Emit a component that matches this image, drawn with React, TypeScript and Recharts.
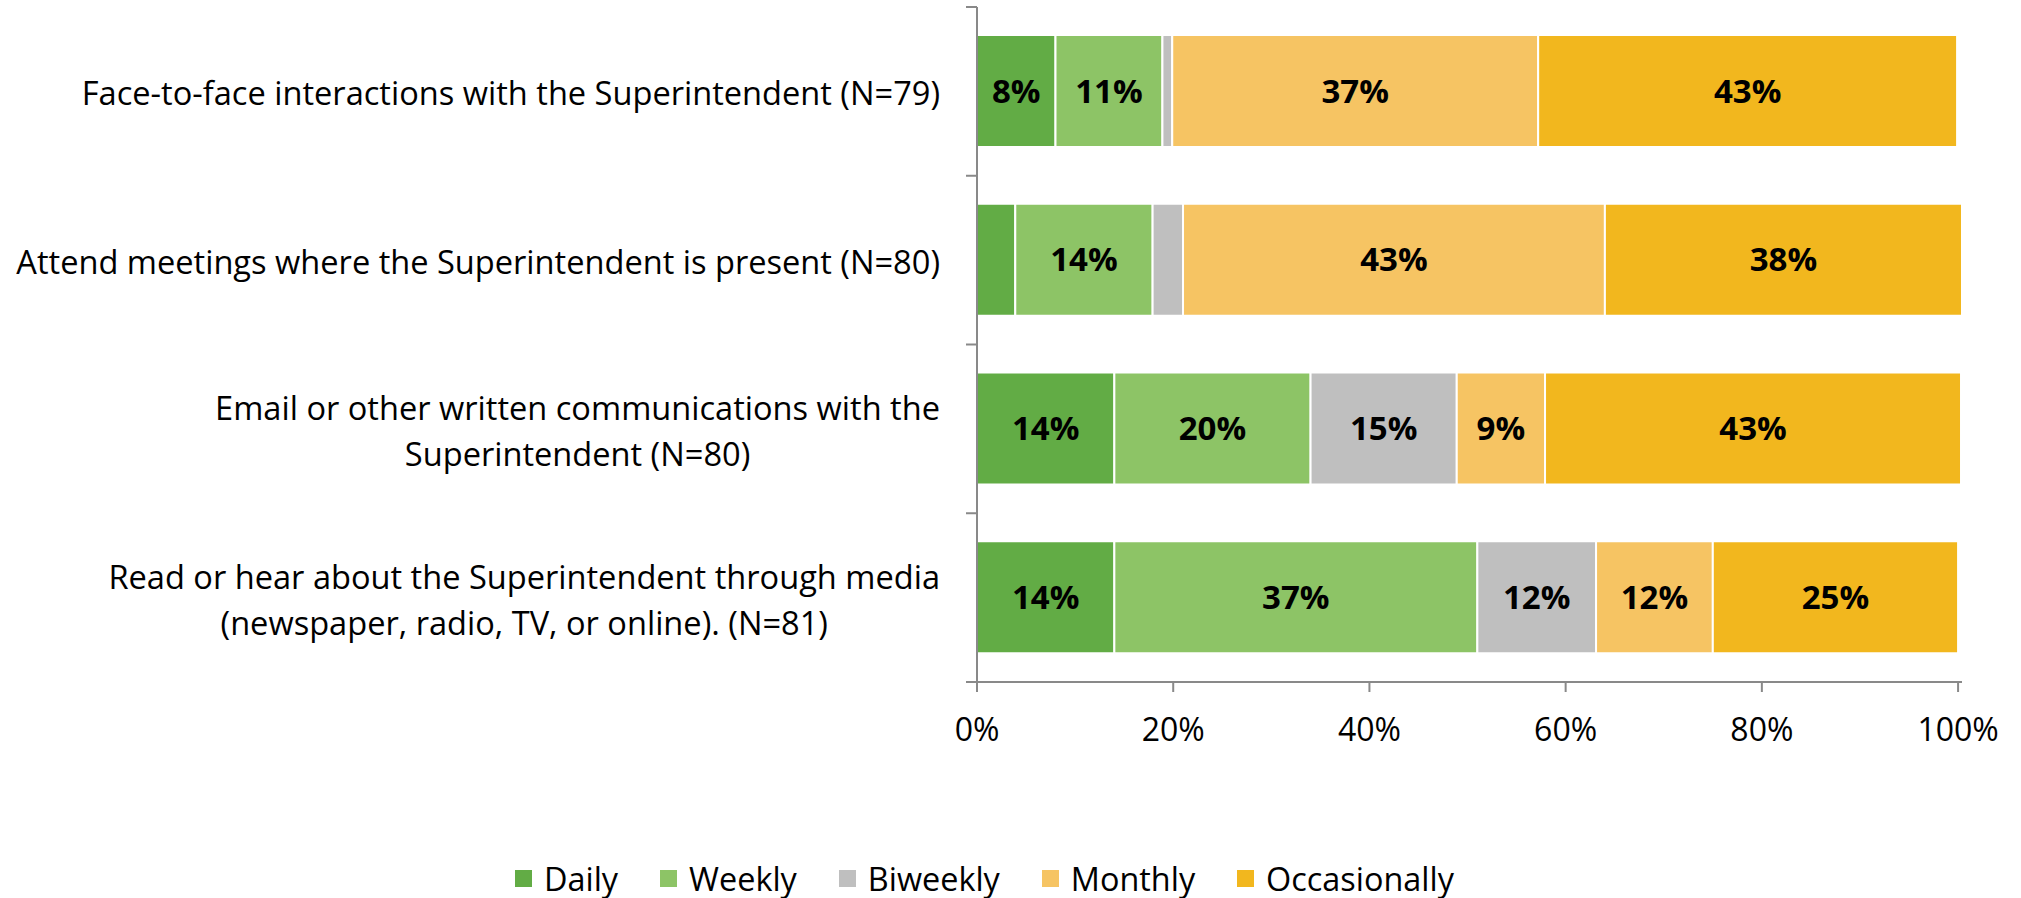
import { Bar, BarChart, LabelList, Legend, XAxis, YAxis } from 'recharts'

if (typeof document !== 'undefined') document.body.style.margin = '0'

const CATEGORY_LINES = [
  ['Face-to-face interactions with the Superintendent (N=79)'],
  ['Attend meetings where the Superintendent is present (N=80)'],
  ['Email or other written communications with the', 'Superintendent (N=80)'],
  ['Read or hear about the Superintendent through media', '(newspaper, radio, TV, or online). (N=81)'],
]

const SERIES = ['Daily', 'Weekly', 'Biweekly', 'Monthly', 'Occasionally']

const COLORS: Record<string, string> = {
  Daily: '#62AC45',
  Weekly: '#8DC466',
  Biweekly: '#BFBFBF',
  Monthly: '#F6C463',
  Occasionally: '#F2B71E',
}

// bar widths (percent)
const DAILY = [8, 3.9, 14, 14]
const WEEKLY = [10.9, 14, 20, 37]
const BIWEEKLY = [1, 3.1, 14.9, 12.1]
const MONTHLY = [37.3, 43, 9, 11.9]
const OCCASIONALLY = [42.7, 36.4, 42.4, 25]

// printed labels
const DAILY_LABELS = ['8%', '', '14%', '14%']
const WEEKLY_LABELS = ['11%', '14%', '20%', '37%']
const BIWEEKLY_LABELS = ['', '', '15%', '12%']
const MONTHLY_LABELS = ['37%', '43%', '9%', '12%']
const OCCASIONALLY_LABELS = ['43%', '38%', '43%', '25%']

const X_TICKS = [0, 20, 40, 60, 80, 100]
// a couple of rows run a hair past 100%, so leave room for them
const X_DOMAIN = [0, 100.4]

const VALUES: Record<string, number[]> = {
  Daily: DAILY, Weekly: WEEKLY, Biweekly: BIWEEKLY, Monthly: MONTHLY, Occasionally: OCCASIONALLY,
}
const LABELS: Record<string, string[]> = {
  Daily: DAILY_LABELS, Weekly: WEEKLY_LABELS, Biweekly: BIWEEKLY_LABELS,
  Monthly: MONTHLY_LABELS, Occasionally: OCCASIONALLY_LABELS,
}

const data = CATEGORY_LINES.map((lines, i) => {
  const row: Record<string, string | number> = { name: lines.join(' ') }
  SERIES.forEach((s) => {
    row[s] = VALUES[s][i]
    row[`${s}Label`] = LABELS[s][i]
  })
  return row
})

const W = 2021
const H = 898
const MARGIN = { top: 7, right: 59, bottom: 0, left: 0 }
const X_AXIS_H = 176
const LEGEND_H = 40
const PLOT_H = H - MARGIN.top - MARGIN.bottom - X_AXIS_H - LEGEND_H
const AXIS = '#898989'
const FONT = '"Open Sans", sans-serif'
const CAT_SIZE = 32.6
const LINE_H = 46

let ctx: CanvasRenderingContext2D | null = null
function measure(text: string) {
  if (!ctx) ctx = document.createElement('canvas').getContext('2d')
  if (!ctx) return text.length * CAT_SIZE * 0.5
  ctx.font = `${CAT_SIZE}px "Open Sans"`
  return ctx.measureText(text).width
}

function CategoryTick(props: any) {
  const { x, y, payload } = props
  const idx = data.findIndex((d) => d.name === payload.value)
  const lines = CATEGORY_LINES[idx] ?? [String(payload.value)]
  const band = PLOT_H / CATEGORY_LINES.length
  const right = x - 37
  const block = Math.max(...lines.map(measure))
  const cx = right - block / 2
  const n = lines.length
  return (
    <g>
      <line x1={x - 11} x2={x} y1={y - band / 2} y2={y - band / 2} stroke={AXIS} strokeWidth={2} />
      {idx === CATEGORY_LINES.length - 1 && (
        <line x1={x - 11} x2={x} y1={y + band / 2} y2={y + band / 2} stroke={AXIS} strokeWidth={2} />
      )}
      {lines.map((l, i) => (
        <text key={i} x={cx} y={y + 2.5 + (i - (n - 1) / 2) * LINE_H} dy="0.35em" textAnchor="middle"
          fontFamily={FONT} fontSize={CAT_SIZE} fill="#000">
          {l}
        </text>
      ))}
    </g>
  )
}

function LegendRow() {
  return (
    <div style={{ height: LEGEND_H, display: 'flex', alignItems: 'center', paddingLeft: 515, fontFamily: FONT, fontSize: 32.4, color: '#000' }}>
      {SERIES.map((s) => (
        <div key={s} style={{ display: 'flex', alignItems: 'center', marginRight: 42, lineHeight: '40px' }}>
          <span style={{ display: 'inline-block', width: 17, height: 17, background: COLORS[s], marginRight: 12 }} />
          <span>{s}</span>
        </div>
      ))}
    </div>
  )
}

export default function App() {
  return (
    <BarChart width={W} height={H} data={data} layout="vertical" margin={MARGIN}>
      <XAxis
        type="number"
        domain={X_DOMAIN}
        ticks={X_TICKS}
        tickFormatter={(v) => `${v}%`}
        height={X_AXIS_H}
        tickSize={10}
        tickMargin={26}
        axisLine={{ stroke: AXIS, strokeWidth: 2 }}
        tickLine={{ stroke: AXIS, strokeWidth: 2 }}
        tick={{ fill: '#000', fontSize: 32, fontFamily: FONT }}
      />
      <YAxis
        type="category"
        dataKey="name"
        width={977}
        tickSize={0}
        tickMargin={0}
        tickLine={false}
        axisLine={{ stroke: AXIS, strokeWidth: 2 }}
        tick={<CategoryTick />}
        interval={0}
      />
      <Legend verticalAlign="bottom" content={() => <LegendRow />} />
      {SERIES.map((s) => (
        <Bar key={s} dataKey={s} stackId="a" fill={COLORS[s]} stroke="#fff" strokeWidth={2} barSize={112} isAnimationActive={false}>
          <LabelList dataKey={`${s}Label`} position="center" fill="#000" fontSize={33} fontWeight="bold" fontFamily={FONT} />
        </Bar>
      ))}
    </BarChart>
  )
}
